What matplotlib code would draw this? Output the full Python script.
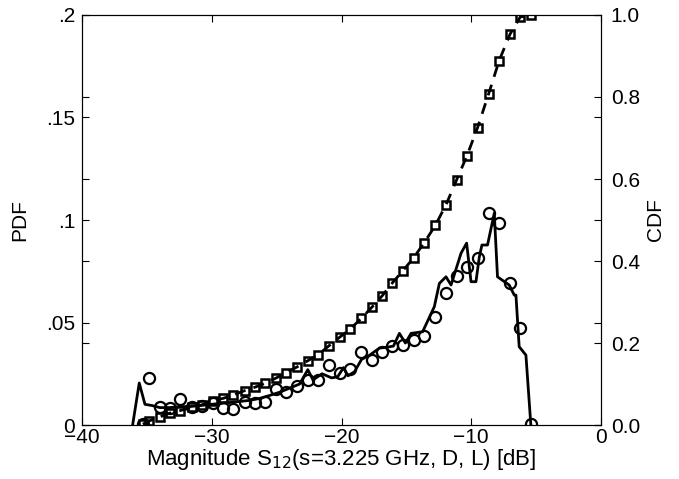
import matplotlib.pyplot as plt

plt.rcParams['font.family'] = ['Liberation Sans', 'DejaVu Sans']

# marker positions (dB) shared by circles (PDF) and squares (CDF)
mark_db = [-35.31, -34.82, -34.0, -33.23, -32.46, -31.56, -30.79, -29.90, -29.13, -28.36,
           -27.46, -26.69, -25.87, -25.08, -24.25, -23.41, -22.59, -21.82, -20.98, -20.15,
           -19.33, -18.48, -17.67, -16.87, -16.10, -15.28, -14.44, -13.62, -12.77, -11.95,
           -11.13, -10.33, -9.52, -8.67, -7.85, -7.02, -6.23, -5.41]
pdf_mark = [0.0005, 0.0228, 0.0089, 0.0081, 0.0125, 0.0089, 0.0093, 0.0106, 0.0081, 0.0077,
            0.0114, 0.0106, 0.0114, 0.0174, 0.0163, 0.0190, 0.0220, 0.0220, 0.0293, 0.0252,
            0.0272, 0.0358, 0.0317, 0.0358, 0.0385, 0.0390, 0.0415, 0.0434, 0.0528, 0.0642,
            0.0727, 0.0772, 0.0816, 0.1033, 0.0984, 0.0694, 0.0475, 0.0005]
cdf_mark = [0.002, 0.010, 0.020, 0.029, 0.035, 0.043, 0.049, 0.059, 0.065, 0.073,
            0.084, 0.092, 0.102, 0.114, 0.128, 0.142, 0.157, 0.171, 0.193, 0.214,
            0.234, 0.260, 0.287, 0.315, 0.346, 0.376, 0.408, 0.445, 0.487, 0.537,
            0.598, 0.657, 0.725, 0.807, 0.889, 0.953, 0.995, 1.0]

# measured PDF curve (solid line)
line_db = [-36.10, -35.59, -35.15, -34.6, -34.0, -33.23, -32.46, -31.7, -30.92, -30.15,
           -29.38, -28.6, -27.85, -27.1, -26.3, -25.5, -24.77, -24.0, -23.23, -22.6,
           -22.2, -21.5, -20.77, -20.3, -19.85, -19.5, -19.0, -18.46, -17.85, -17.08,
           -16.46, -16.0, -15.54, -15.08, -14.64, -13.75, -12.85, -12.46, -11.95, -11.56,
           -10.79, -10.36, -10.02, -9.64, -9.38, -9.18, -8.75, -8.23, -7.98, -7.08,
           -6.69, -6.56, -6.31, -5.79, -5.41]
line_pdf = [0.0, 0.0205, 0.0101, 0.0095, 0.0085, 0.0085, 0.0090, 0.0090, 0.0095, 0.0100,
            0.0105, 0.0110, 0.0115, 0.0120, 0.0130, 0.0145, 0.0160, 0.0180, 0.0200, 0.0270,
            0.0220, 0.0250, 0.0230, 0.0235, 0.0280, 0.0240, 0.0260, 0.0320, 0.0340, 0.0375,
            0.0380, 0.0385, 0.0447, 0.0400, 0.0447, 0.0455, 0.0577, 0.0691, 0.0723, 0.0683,
            0.0838, 0.0887, 0.0699, 0.0699, 0.0821, 0.0878, 0.0878, 0.1033, 0.0723, 0.0683,
            0.0634, 0.0634, 0.0382, 0.0341, 0.0]

fig = plt.figure(figsize=(6.79, 4.79), dpi=100)
ax = fig.add_axes([0.1208, 0.1127, 0.7644, 0.856])
ax2 = ax.twinx()

ax.plot(line_db, line_pdf, '-', color='black', lw=2)
ax.plot(mark_db, pdf_mark, 'o', mfc='none', mec='black', ms=8, mew=1.6)
ax2.plot(mark_db, cdf_mark, '--', color='black', lw=2, dashes=(4, 3))
ax2.plot(mark_db, cdf_mark, 's', mfc='none', mec='black', ms=6, mew=1.8)

ax.set_xlim(-40, 0)
ax.set_ylim(0, 0.2)
ax2.set_ylim(0, 1)
ax.set_xticks([-40, -30, -20, -10, 0])
ax.set_xticklabels(['\u221240', '\u221230', '\u221220', '\u221210', '0'])
ax.set_yticks([0, 0.05, 0.1, 0.15, 0.2])
ax.set_yticklabels(['0', '.05', '.1', '.15', '.2'])
ax2.set_yticks([0, 0.2, 0.4, 0.6, 0.8, 1.0])
ax2.set_yticklabels(['0.0', '0.2', '0.4', '0.6', '0.8', '1.0'])

ax.tick_params(axis='x', direction='in', top=True, length=5, labelsize=15, pad=2)
ax.tick_params(axis='y', direction='in', right=True, length=5, labelsize=15, pad=5)
ax2.tick_params(direction='in', left=True, length=5, labelsize=15, pad=7)

ax.set_ylabel('PDF', fontsize=15, labelpad=12)
ax2.set_ylabel('CDF', fontsize=15, labelpad=4)
ax.set_xlabel('Magnitude S$_{12}$(s=3.225 GHz, D, L) [dB]', fontsize=16, labelpad=0)

fig.savefig('out.png', dpi=100)
